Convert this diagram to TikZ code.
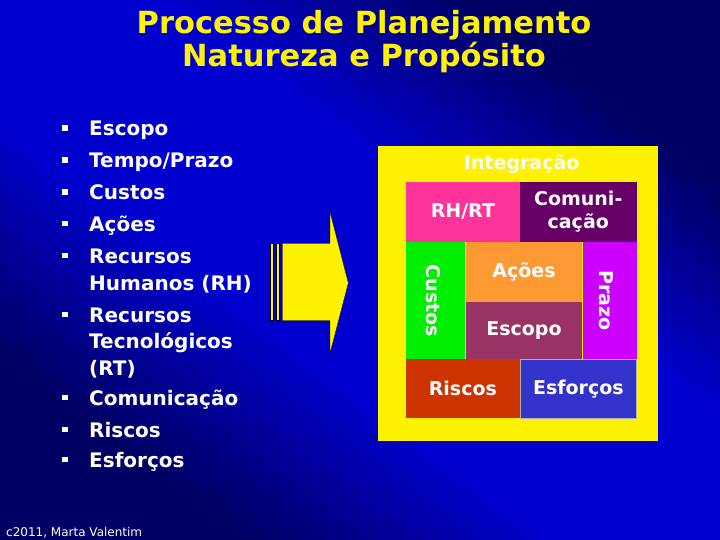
\documentclass[tikz,border=0pt]{standalone}
\usepackage{fontspec}
\setmainfont{DejaVu Sans}
\usetikzlibrary{positioning}

\definecolor{slideblue}{RGB}{0,0,206}
\definecolor{slidenavy}{RGB}{0,0,100}
\definecolor{hotpink}{RGB}{255,51,153}
\definecolor{plum}{RGB}{102,0,102}
\definecolor{limegreen}{RGB}{0,238,0}
\definecolor{tangerine}{RGB}{255,153,51}
\definecolor{wine}{RGB}{153,51,102}
\definecolor{orchid}{RGB}{204,0,255}
\definecolor{rust}{RGB}{204,51,0}
\definecolor{royal}{RGB}{51,51,204}

\pgfdeclareverticalshading{slidebg}{100bp}{color(0bp)=(slidenavy);
  color(27bp)=(slidenavy); color(42bp)=(slideblue); color(58bp)=(slideblue);
  color(73bp)=(slidenavy); color(100bp)=(slidenavy)}

\tikzset{
  heading/.style={anchor=base, inner sep=0pt, text=yellow,
    font=\bfseries\fontsize{30.5}{34}\selectfont},
  item/.style={anchor=base west, inner sep=0pt, text=white,
    font=\bfseries\fontsize{20}{24}\selectfont},
  tile/.style={anchor=north west, inner sep=0pt},
  tiletext/.style={inner sep=0pt, text=white, align=center,
    font=\bfseries\fontsize{19}{23}\selectfont}
}

\begin{document}
\begin{tikzpicture}[x=1pt, y=-1pt]
  \shade[shading=slidebg, shading angle=-36.87] (0,0) rectangle (720,540);
  \useasboundingbox (0,0) rectangle (720,540);

  % title
  \node[heading] (title) at (364,34) {Processo de Planejamento};
  \node[heading] (subtitle) at (364,67) {Natureza e Propósito};

  % list
  \node[item] (escopo) at (89,136) {Escopo};
  \node[item] (tempo) at (89,168) {Tempo/Prazo};
  \node[item] (custos) at (89,200) {Custos};
  \node[item] (acoes) at (89,231.5) {Ações};
  \node[item] (rh1) at (89,263) {Recursos};
  \node[item] (rh2) at (89,290) {Humanos (RH)};
  \node[item] (rt1) at (89,322) {Recursos};
  \node[item] (rt2) at (89,348) {Tecnológicos};
  \node[item] (rt3) at (89,375) {(RT)};
  \node[item] (comun) at (89,405) {Comunicação};
  \node[item] (riscos) at (89,437) {Riscos};
  \node[item] (esforcos) at (89,467) {Esforços};
  \foreach \y in {136,168,200,231.5,263,322,405,437,467}
    \fill[white] (62,\y-10.5) rectangle ++(5.5,5.5);

  % arrow
  \filldraw[fill=yellow, draw=black, line width=0.5pt]
    (270.7,243.3) rectangle (273.3,320.7)
    (276,243.3) rectangle (279.3,320.7);
  \filldraw[fill=yellow, draw=black, line width=0.3pt]
    (282.3,243.3) -- (330,243.3) -- (330,211.7) -- (348.3,283)
    -- (330,353.3) -- (330,320.7) -- (282.3,320.7) -- cycle;

  % box
  \node[tile, fill=yellow, minimum width=280.4pt, minimum height=295pt]
    (integ) at (377.3,146) {};
  \node[tiletext, anchor=base] (integtitle) at (521.7,170) {Integração};
  \node[tile, fill=hotpink, minimum width=113.3pt, minimum height=60pt]
    (rhrt) at (406,181.7) {};
  \node[tile, fill=plum, right=0pt of rhrt.north east, anchor=north west,
    minimum width=116.7pt, minimum height=60pt] (comunbox) {};
  \node[tile, fill=limegreen, below=0pt of rhrt.south west, anchor=north west,
    minimum width=59pt, minimum height=116.7pt] (custosbox) {};
  \node[tile, fill=tangerine, right=0pt of custosbox.north east, anchor=north west,
    minimum width=116.7pt, minimum height=59.3pt] (acoesbox) {};
  \node[tile, fill=wine, below=0pt of acoesbox.south west, anchor=north west,
    minimum width=116.7pt, minimum height=57.4pt] (escopobox) {};
  \node[tile, fill=orchid, right=0pt of acoesbox.north east, anchor=north west,
    minimum width=54.3pt, minimum height=116.7pt] (prazobox) {};
  \node[tile, fill=rust, below=0pt of custosbox.south west, anchor=north west,
    minimum width=113.3pt, minimum height=59pt] (riscosbox) {};
  \node[tile, fill=royal, draw=gray!60, line width=0.6pt,
    right=0pt of riscosbox.north east, anchor=north west,
    minimum width=116.7pt, minimum height=59pt] (esforcosbox) {};

  \node[tiletext] at (rhrt) {RH/RT};
  \node[tiletext] at (comunbox) {Comuni-\\cação};
  \node[tiletext, rotate=-90] at ([xshift=-2pt]custosbox.center) {Custos};
  \node[tiletext] at (acoesbox) {Ações};
  \node[tiletext] at (escopobox) {Escopo};
  \node[tiletext, rotate=-90] at ([xshift=-4pt]prazobox.center) {Prazo};
  \node[tiletext] at (riscosbox) {Riscos};
  \node[tiletext] at (esforcosbox) {Esforços};

  % credit
  \node[anchor=base west, inner sep=0pt, text=white,
    font=\fontsize{12}{14}\selectfont] (credit) at (6,536) {c2011, Marta Valentim};
\end{tikzpicture}
\end{document}
